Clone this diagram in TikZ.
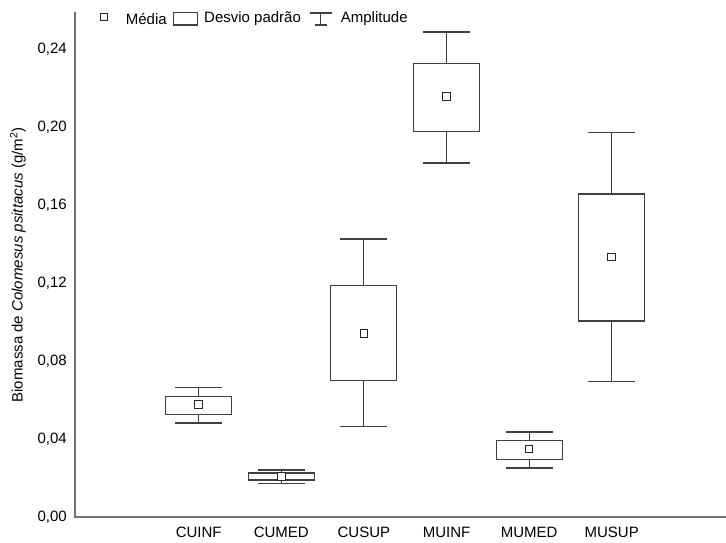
\documentclass[tikz,border=0pt]{standalone}
\usepackage{fontspec}
\setmainfont{Liberation Sans}
\begin{document}
\begin{tikzpicture}[x=1pt, y=1950pt, line join=miter,
  axisline/.style={draw=black!55, line width=1.5pt},
  whisk/.style={draw=black!75, line width=1.15pt},
  sdbox/.style={draw=black!75, line width=1.15pt, fill=white},
  meanmark/.style={draw=black!85, fill=white, line width=1pt, rectangle,
    minimum size=7.5pt, inner sep=0pt},
  ticklabel/.style={anchor=east, inner sep=0pt, font=\fontsize{15pt}{17pt}\selectfont},
  catlabel/.style={inner sep=0pt, font=\fontsize{15pt}{17pt}\selectfont},
  legendtext/.style={anchor=west, inner sep=0pt, font=\fontsize{15pt}{17pt}\selectfont}]

% canvas: origin sits at the corner of the axes
\useasboundingbox (-75,-26pt) rectangle (651,517pt);

% axes
\coordinate (origin) at (0,0);
\coordinate (ytop) at (0,505pt);
\coordinate (xend) at (651,0);
\draw[axisline] (ytop) -- (origin) -- (xend);

% value labels on the vertical axis
\foreach \v/\t in {0/{0,00},0.04/{0,04},0.08/{0,08},0.12/{0,12},0.16/{0,16},0.20/{0,20},0.24/{0,24}}
  \node[ticklabel] (tick-\t) at (-8,\v) {\t};

\node[rotate=90, inner sep=0pt, font=\fontsize{15pt}{17pt}\selectfont] (ylabel) at (-57,252pt)
  {Biomassa de \textit{Colomesus psittacus} (g/m\textsuperscript{2})};

% one group: centre, whisker low, box low, box high, whisker high, mean, name
\newcommand\groupplot[7]{%
  \coordinate (#7-wlo) at (#1,#2);
  \coordinate (#7-blo) at (#1,#3);
  \coordinate (#7-bhi) at (#1,#4);
  \coordinate (#7-whi) at (#1,#5);
  \draw[whisk] (#7-whi) -- (#7-bhi);
  \draw[whisk] (#7-blo) -- (#7-wlo);
  \draw[whisk] ([xshift=-23.5pt]#7-whi) -- ([xshift=23.5pt]#7-whi);
  \draw[whisk] ([xshift=-23.5pt]#7-wlo) -- ([xshift=23.5pt]#7-wlo);
  \draw[sdbox] ([xshift=-33pt]#7-blo) rectangle ([xshift=33pt]#7-bhi);
  \node[meanmark] (#7-mean) at (#1,#6) {};
  \node[catlabel] (#7-label) at (#1,-15pt) {#7};
}

\groupplot{123.7}{0.0482}{0.0527}{0.0619}{0.0665}{0.0578}{CUINF}
\groupplot{206.3}{0.0174}{0.0190}{0.0226}{0.0241}{0.0208}{CUMED}
\groupplot{288.9}{0.0463}{0.0699}{0.1188}{0.1426}{0.0942}{CUSUP}
\groupplot{371.5}{0.1815}{0.1979}{0.2325}{0.2487}{0.2156}{MUINF}
\groupplot{454.1}{0.0251}{0.0295}{0.0391}{0.0436}{0.0348}{MUMED}
\groupplot{536.7}{0.0694}{0.1005}{0.1656}{0.1973}{0.1333}{MUSUP}

% legend
\node[meanmark, minimum size=7pt] (leg-mean) at (29.3,499.5pt) {};
\node[legendtext] (leg-mean-text) at (50.7,498pt) {Média};
\draw[sdbox, line width=1.1pt] (98.3,492pt) rectangle (122.3,504.3pt);
\node[legendtext] (leg-sd-text) at (129,498pt) {Desvio padrão};
\coordinate (leg-amp-top) at (245.7,504pt);
\coordinate (leg-amp-bot) at (245.7,492pt);
\draw[whisk, line width=1.1pt] ([xshift=-11pt]leg-amp-top) -- ([xshift=11pt]leg-amp-top);
\draw[whisk, line width=1.1pt] (leg-amp-top) -- (leg-amp-bot);
\draw[whisk, line width=1.1pt] ([xshift=-6pt]leg-amp-bot) -- ([xshift=6pt]leg-amp-bot);
\node[legendtext] (leg-amp-text) at (265.7,498pt) {Amplitude};
\end{tikzpicture}
\end{document}
